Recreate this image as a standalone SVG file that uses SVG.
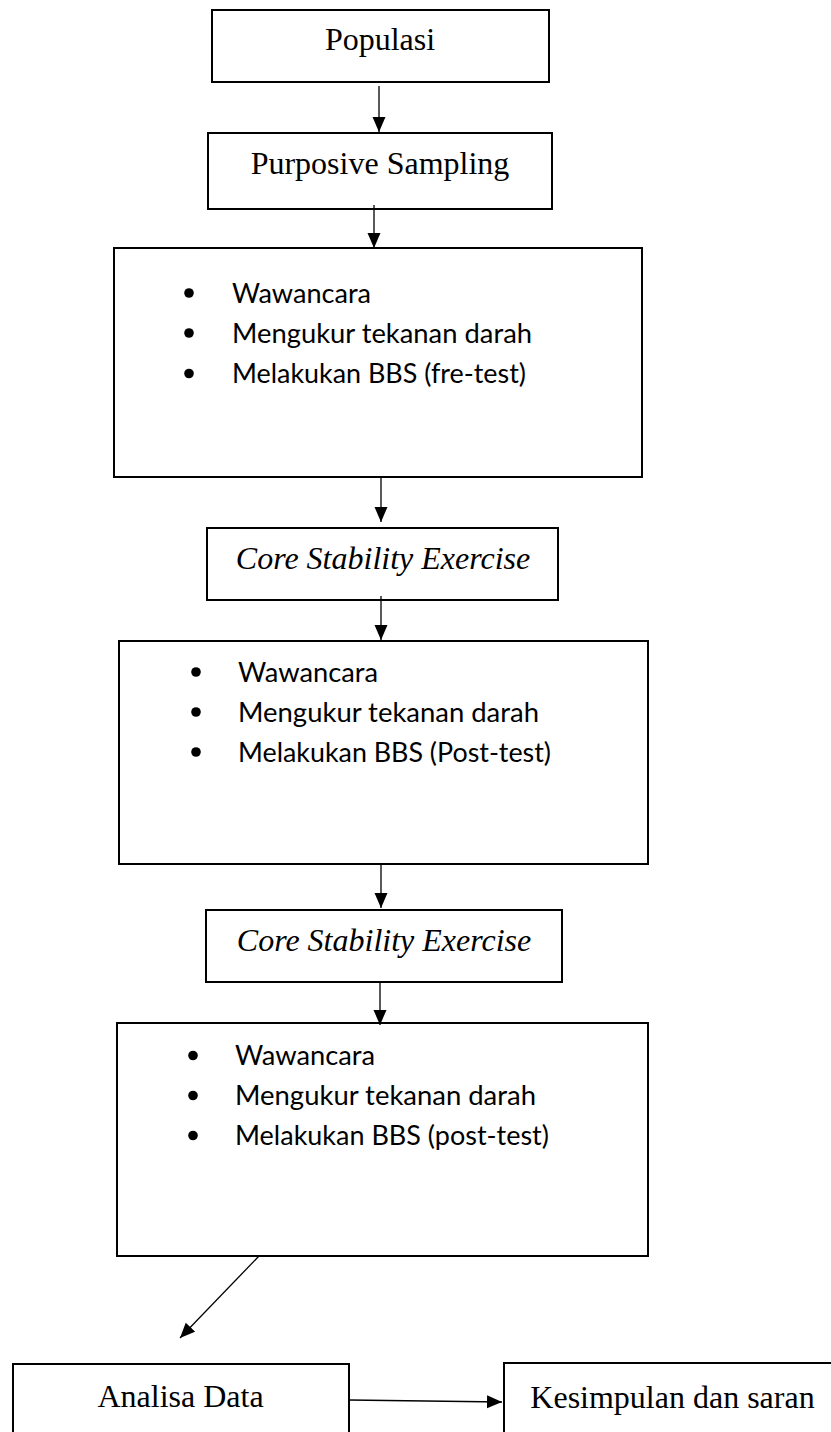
<svg xmlns="http://www.w3.org/2000/svg" width="831" height="1432" viewBox="0 0 831 1432">
<defs>
<marker id="ah" markerUnits="userSpaceOnUse" markerWidth="16" markerHeight="14" refX="15" refY="6.5" orient="auto">
<path d="M0,0 L15,6.5 L0,13 z" fill="#000"/>
</marker>
</defs>
<style>
.box{fill:#fff;stroke:#000;stroke-width:2}
.t{font-family:"Liberation Serif","Times New Roman",serif;font-size:32px;fill:#000;text-anchor:middle}
.i{font-style:italic}
.b{font-family:Lato,"Open Sans",sans-serif;font-size:26px;fill:#000}
.dot{fill:#000}
.c{stroke:#000;stroke-width:1.3;fill:none;marker-end:url(#ah)}
</style>
<rect width="831" height="1432" fill="#fff"/>
<g id="populasi">
<rect class="box" x="212" y="10" width="337" height="72"/>
<text class="t" x="380" y="50">Populasi</text>
</g>
<g id="purposive">
<rect class="box" x="208" y="133" width="344" height="76"/>
<text class="t" x="380" y="174">Purposive Sampling</text>
</g>
<g id="pretest">
<rect class="box" x="114" y="248" width="528" height="229"/>
<circle class="dot" cx="189" cy="293" r="4.8"/>
<circle class="dot" cx="189" cy="333" r="4.8"/>
<circle class="dot" cx="189" cy="373.5" r="4.8"/>
<text class="b" x="232" y="302.5" textLength="139" lengthAdjust="spacingAndGlyphs">Wawancara</text>
<text class="b" x="232" y="342.5" textLength="300" lengthAdjust="spacingAndGlyphs">Mengukur tekanan darah</text>
<text class="b" x="232" y="383" textLength="294" lengthAdjust="spacingAndGlyphs">Melakukan BBS (fre-test)</text>
</g>
<g id="core1">
<rect class="box" x="207" y="528" width="351" height="72"/>
<text class="t i" x="383" y="569">Core Stability Exercise</text>
</g>
<g id="posttest1">
<rect class="box" x="119" y="641" width="529" height="223"/>
<circle class="dot" cx="196" cy="672" r="4.8"/>
<circle class="dot" cx="196" cy="712" r="4.8"/>
<circle class="dot" cx="196" cy="752" r="4.8"/>
<text class="b" x="238" y="681.5" textLength="140" lengthAdjust="spacingAndGlyphs">Wawancara</text>
<text class="b" x="238" y="721.5" textLength="301" lengthAdjust="spacingAndGlyphs">Mengukur tekanan darah</text>
<text class="b" x="238" y="761.5" textLength="313" lengthAdjust="spacingAndGlyphs">Melakukan BBS (Post-test)</text>
</g>
<g id="core2">
<rect class="box" x="206" y="910" width="356" height="72"/>
<text class="t i" x="384" y="951">Core Stability Exercise</text>
</g>
<g id="posttest2">
<rect class="box" x="117" y="1023" width="531" height="233"/>
<circle class="dot" cx="193" cy="1055.5" r="4.8"/>
<circle class="dot" cx="193" cy="1095.5" r="4.8"/>
<circle class="dot" cx="193" cy="1135.5" r="4.8"/>
<text class="b" x="235" y="1065" textLength="140" lengthAdjust="spacingAndGlyphs">Wawancara</text>
<text class="b" x="235" y="1105" textLength="301" lengthAdjust="spacingAndGlyphs">Mengukur tekanan darah</text>
<text class="b" x="235" y="1145" textLength="314" lengthAdjust="spacingAndGlyphs">Melakukan BBS (post-test)</text>
</g>
<g id="analisa">
<rect class="box" x="13" y="1364" width="336" height="100"/>
<text class="t" x="180.5" y="1407">Analisa Data</text>
</g>
<g id="kesimpulan">
<rect class="box" x="504" y="1363" width="340" height="100"/>
<text class="t" x="672.5" y="1408">Kesimpulan dan saran</text>
</g>
<g id="connectors">
<line class="c" x1="379" y1="86" x2="379" y2="132"/>
<line class="c" x1="374" y1="205" x2="374" y2="248"/>
<line class="c" x1="381" y1="477" x2="381" y2="522"/>
<line class="c" x1="381" y1="596" x2="381" y2="640"/>
<line class="c" x1="381" y1="864" x2="381" y2="908"/>
<line class="c" x1="380" y1="982" x2="380" y2="1025"/>
<line class="c" x1="259" y1="1256" x2="180" y2="1338"/>
<line class="c" x1="349" y1="1400" x2="502" y2="1402"/>
</g>
</svg>
